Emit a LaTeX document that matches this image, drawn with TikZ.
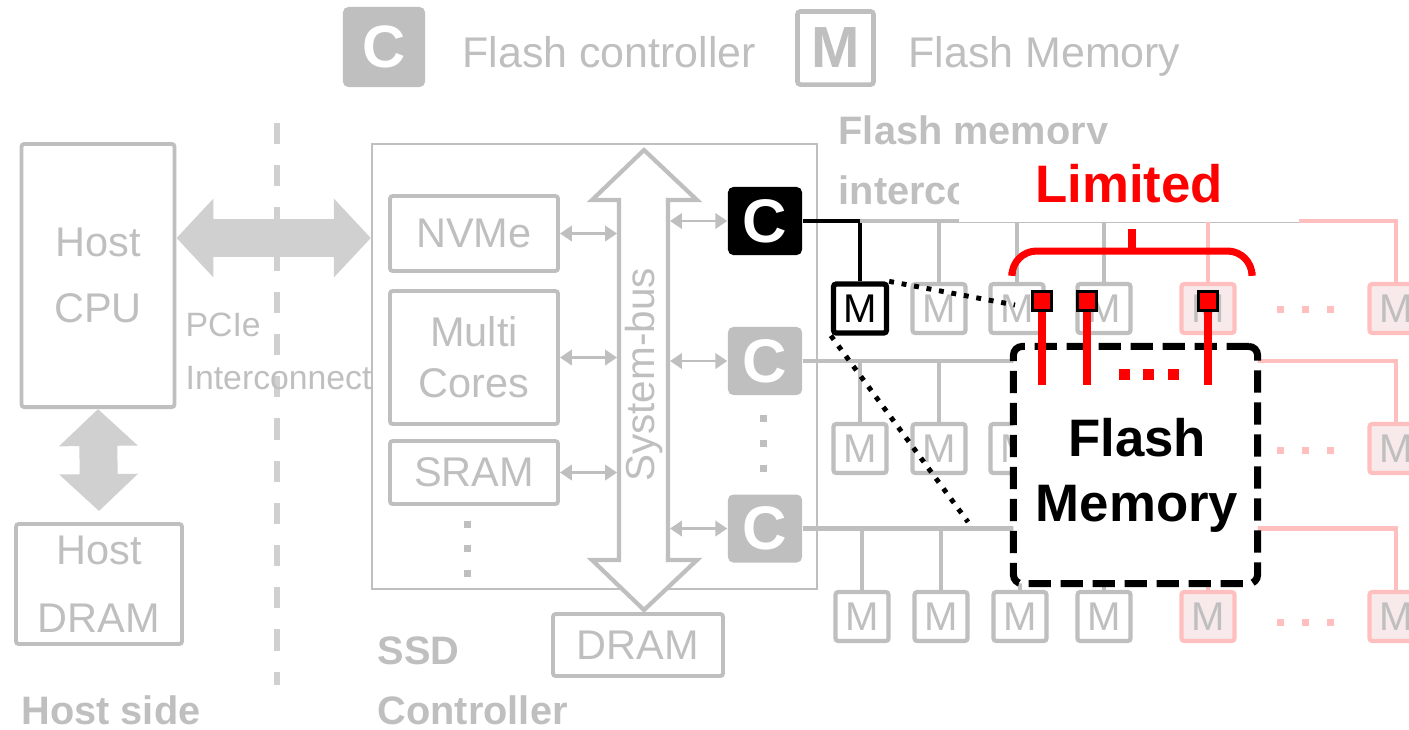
\documentclass[tikz,border=0pt]{standalone}
\usepackage{fontspec}
\setmainfont{Liberation Sans}
\usetikzlibrary{arrows.meta}
\definecolor{lgray}{HTML}{BFBFBF}
\definecolor{pale}{HTML}{D0D0D0}
\definecolor{pink}{HTML}{FFBFBF}
\definecolor{pinkfill}{HTML}{F8EAEA}
\definecolor{hired}{HTML}{FF0000}
\newcommand{\fsz}[2]{\fontsize{#1}{#2}\selectfont}
\tikzset{
  gbox/.style={draw=lgray,line width=1.1pt,rounded corners=0.8pt,text=lgray,align=center,inner sep=0pt,font=\fsz{11.8}{18.8}},
  glabel/.style={text=lgray,inner sep=0pt,align=left,font=\fsz{11.3}{17}\bfseries},
  ctl/.style={fill=lgray,rounded corners=1.5pt,minimum width=0.74cm,minimum height=0.68cm,inner sep=0pt,text=white,font=\fsz{17.5}{18}\bfseries},
  mem/.style={draw=lgray,fill=white,line width=1.2pt,rounded corners=0.8pt,minimum width=0.53cm,minimum height=0.49cm,inner sep=0pt,text=lgray,font=\fsz{11.4}{12}},
  memp/.style={mem,draw=pink,fill=pinkfill},
  memk/.style={mem,draw=black,text=black,line width=1.5pt},
  fatarr/.style={pale,line width=10.8pt,{Triangle[length=10.5pt,width=21.8pt]}-{Triangle[length=10.5pt,width=21.8pt]}},
  thinarr/.style={lgray,line width=0.7pt,<->,>={Triangle[length=3.4pt,width=4.4pt]}},
  bus/.style={lgray,line width=1.4pt},
  pbus/.style={pink,line width=1.4pt},
  kbus/.style={black,line width=1.3pt},
  zoomline/.style={black,line width=1.4pt,dash pattern=on 1.4pt off 2.2pt},
  rsq/.style={draw=black,fill=hired,line width=0.6pt,minimum size=0.19cm,inner sep=0pt},
  pin/.style={hired,line width=2.3pt},
  brace/.style={hired,line width=2pt,rounded corners=7pt}
}
\begin{document}
\begin{tikzpicture}[x=0.01cm,y=-0.01cm]
  \useasboundingbox (0,0) rectangle (1409,729);
  % legend
  \node[ctl,minimum width=0.82cm,minimum height=0.80cm,font=\fsz{17}{18}\bfseries] (legc) at (384,47) {C};
  \node[text=lgray,inner sep=0pt,anchor=base west,font=\fsz{12.2}{14}] (legctxt) at (462,67) {Flash controller};
  \node[mem,minimum width=0.76cm,minimum height=0.73cm,line width=1.3pt,font=\fsz{16.5}{17}\bfseries] (legm) at (835.5,48) {M};
  \node[text=lgray,inner sep=0pt,anchor=base west,font=\fsz{12.2}{14}] (legmtxt) at (908,67) {Flash Memory};

  % host side
  \node[gbox,minimum width=1.53cm,minimum height=2.63cm] (cpu) at (98,275.5) {Host\\CPU};
  \node[gbox,minimum width=1.66cm,minimum height=1.20cm,font=\fsz{11.8}{19.3}] (hdram) at (99,584) {Host\\DRAM};
  \draw[fatarr] (cpu.south) -- ([yshift=0.11cm]hdram.north);
  \node[glabel] (hostside) at (111,710) {Host side};
  \draw[pale,line width=1.7pt,dash pattern=on 6pt off 6pt] (277,123) -- (277,685);
  \coordinate (pcie) at (275,238);
  \node[text=lgray,inner sep=0pt,anchor=west,align=left,font=\fsz{9.6}{15}] (pcielbl) at (185,351.5) {PCIe\\Interconnect};

  % SSD controller
  \node[draw=lgray,line width=0.6pt,minimum width=4.45cm,minimum height=4.45cm] (ssd) at (594.5,366.5) {};
  \draw[fatarr] (cpu.east |- pcie) -- (ssd.west |- pcie);
  \node[gbox,minimum width=1.68cm,minimum height=0.75cm] (nvme) at (474,233.5) {NVMe};
  \node[gbox,minimum width=1.68cm,minimum height=1.33cm,font=\fsz{11.8}{14.5}] (cores) at (474,357.5) {Multi\\Cores};
  \node[gbox,minimum width=1.68cm,minimum height=0.63cm] (sram) at (474,472.5) {SRAM};
  \foreach \y in {524,548,573} \fill[lgray] (463.5,\y-3.5) rectangle ++(7,7);
  \draw[lgray,line width=1.2pt,fill=white] (644,150) -- (697,200) -- (668,200) -- (668,560) -- (697,560)
    -- (644,610) -- (592,560) -- (619,560) -- (619,200) -- (592,200) -- cycle;
  \node[rotate=90,text=lgray,inner sep=0pt,font=\fsz{11.5}{12}] (sysbus) at (644,375) {System-bus};
  \node[gbox,minimum width=1.70cm,minimum height=0.62cm] (dram) at (638,645) {DRAM};
  \node[glabel,anchor=west] (ssdlbl) at (377,680.5) {SSD\\Controller};
  \coordinate (busL) at (617,0);
  \coordinate (busR) at (670,0);
  \node[ctl,fill=black] (c1) at (765,221) {C};
  \node[ctl] (c2) at (765,361) {C};
  \node[ctl] (c3) at (765,528.5) {C};
  \foreach \y in {418,443,468} \fill[lgray] (759.5,\y-3.5) rectangle ++(7,7);
  \foreach \b in {nvme,cores,sram} \draw[thinarr] (\b.east) -- (\b.east -| busL);
  \foreach \b in {c1,c2,c3} \draw[thinarr] (\b.west -| busR) -- (\b.west);

  % flash memory grid
  \node[memk] (m11) at (860,308.5) {M};
  \foreach \c/\x in {2/939,3/1017,4/1104} \node[mem] (m1\c) at (\x,308.5) {M};
  \foreach \c/\x in {5/1208,6/1396} \node[memp] (m1\c) at (\x,308.5) {M};
  \foreach \c/\x in {1/860,2/939,3/1017} \node[mem] (m2\c) at (\x,448.5) {M};
  \node[memp] (m26) at (1396,448.5) {M};
  \foreach \c/\x in {1/862,2/941,3/1020,4/1104} \node[mem] (m3\c) at (\x,616.5) {M};
  \foreach \c/\x in {5/1208,6/1396} \node[memp] (m3\c) at (\x,616.5) {M};
  \foreach \y in {309,450,622} \foreach \x in {1280,1305,1330} \fill[pink] (\x-3.5,\y-3.5) rectangle ++(7,7);
  \coordinate (fadeA) at (1299,0);
  \coordinate (fmc) at (1135.5,465);
  \draw[kbus] (c1.east) -| (m11.north);
  \draw[bus] (m11.north |- c1.east) -- (fadeA |- c1.east);
  \draw[pbus] (fadeA |- c1.east) -| (m16.north);
  \foreach \c in {2,3,4} \draw[bus] (m1\c.north |- c1.east) -- (m1\c.north);
  \draw[pbus] (m15.north |- c1.east) -- (m15.north);
  \foreach \r in {2,3} {
    \draw[bus] (c\r.east) -- (c\r.east -| fmc);
    \draw[pbus] (c\r.east -| fmc) -| (m\r6.north);
    \foreach \c in {1,2,3} \draw[bus] (m\r\c.north |- c\r.east) -- (m\r\c.north);
  }
  \draw[bus] (m34.north |- c3.east) -- (m34.north);
  \draw[pbus] (m35.north |- c3.east) -- (m35.north);
  \begin{scope}
    \clip (830,100) -- (1120,100) -- (1120,143) -- (959,143) -- (959,230) -- (830,230) -- cycle;
    \node[glabel,anchor=west] (fmic) at (838,160) {Flash memory\\interconnect};
  \end{scope}
  \node[fill=white,minimum width=3.40cm,minimum height=0.765cm,inner sep=0pt,text=hired,font=\fsz{15}{16}\bfseries] (limbox) at (1129,183.25) {Limited};

  % zoomed flash memory
  \node[draw=black,fill=white,line width=2pt,dash pattern=on 6.3pt off 2.8pt,rounded corners=2.5pt,minimum width=2.44cm,minimum height=2.37cm] (fm) at (fmc) {};
  \node[inner sep=0pt,align=center,font=\fsz{15}{18.5}\bfseries] (fmlbl) at (1137,475) {Flash\\Memory};
  \coordinate (pinend) at (0,385);
  \node[rsq] (rs1) at (1042,301) {};
  \node[rsq] (rs2) at (1087,301) {};
  \node[rsq] (rs3) at (1208,301) {};
  \foreach \i in {1,2,3} \draw[pin] (rs\i.south) -- (rs\i.south |- pinend);
  \foreach \x in {1124,1148,1173} \fill[hired] (\x-5.5,368.5) rectangle ++(11,11);
  \draw[brace] (1012,272) |- (1252,251) -- (1252,272);
  \draw[hired,line width=2pt] (1132,229) -- (1132,252);
  \coordinate (zoomA) at (1015,305);
  \coordinate (zoomB) at (968,522);
  \draw[zoomline] (m11.north east) -- (zoomA);
  \draw[zoomline] (m11.south west) -- (zoomB);
\end{tikzpicture}
\end{document}
